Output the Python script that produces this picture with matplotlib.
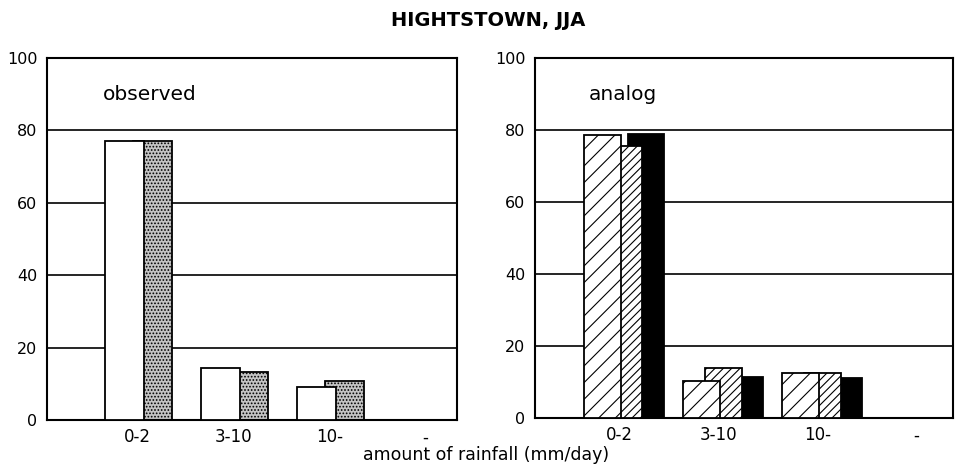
import numpy as np
import matplotlib.pyplot as plt

# categories of daily rainfall
categories = ['0-2', '3-10', '10-', '-']

# observed panel (% of days)
obs_white = [77, 14.3, 9.2, 0]
obs_shaded = [77, 13.3, 10.8, 0]

# analog panel (% of days)
ana_wide = [78.6, 10.4, 12.6, 0]
ana_fine = [75.5, 13.8, 12.4, 0]
ana_black = [78.8, 11.5, 11.0, 0]

plt.rcParams['font.family'] = ['DejaVu Sans']
plt.rcParams['hatch.linewidth'] = 0.8

fig = plt.figure(figsize=(9.56, 4.7), dpi=100)
ax1 = fig.add_axes([47/956, 1-420/470, 410/956, 362/470])
ax2 = fig.add_axes([535/956, 1-418/470, 418/956, 360/470])

x = np.arange(1, len(categories) + 1)

# left: observed
w = 0.41
ax1.bar(x + 0.16, obs_shaded, w, facecolor='#c4c4c4', edgecolor='black',
        hatch='.....', linewidth=1.3, zorder=2)
ax1.bar(x - 0.13, obs_white, w, facecolor='white', edgecolor='black',
        linewidth=1.3, zorder=3)
ax1.set_xlim(0.06, 4.33)
ax1.text(0.64, 90, 'observed', fontsize=14.5, va='center')

# right: analog
w2 = 0.37
ax2.bar(x + 0.27, ana_black, w2, facecolor='black', edgecolor='black',
        linewidth=1.3, zorder=2)
ax2.bar(x + 0.05, ana_fine, w2, facecolor='white', edgecolor='black',
        hatch='////', linewidth=1.3, zorder=3)
ax2.bar(x - 0.17, ana_wide, w2, facecolor='white', edgecolor='black',
        hatch='//', linewidth=1.3, zorder=4)
ax2.set_xlim(0.15, 4.37)
ax2.text(0.69, 90, 'analog', fontsize=14.5, va='center')

for ax in (ax1, ax2):
    ax.set_ylim(0, 100)
    ax.set_yticks([0, 20, 40, 60, 80, 100])
    ax.set_xticks(x)
    ax.set_xticklabels(categories)
    ax.tick_params(axis='x', length=0, labelsize=12, pad=6)
    ax.tick_params(axis='y', length=0, labelsize=11.5, pad=7)
    ax.yaxis.grid(True, color='black', linewidth=1.2)
    ax.set_axisbelow(True)
    for s in ax.spines.values():
        s.set_linewidth(1.5)

fig.text(488/956, 1-21/470, 'HIGHTSTOWN, JJA', ha='center', va='center',
         fontsize=14, fontweight='bold')
fig.text(486/956, 1-455/470, 'amount of rainfall (mm/day)', ha='center',
         va='center', fontsize=12.5)

fig.savefig('out.png', dpi=100)
